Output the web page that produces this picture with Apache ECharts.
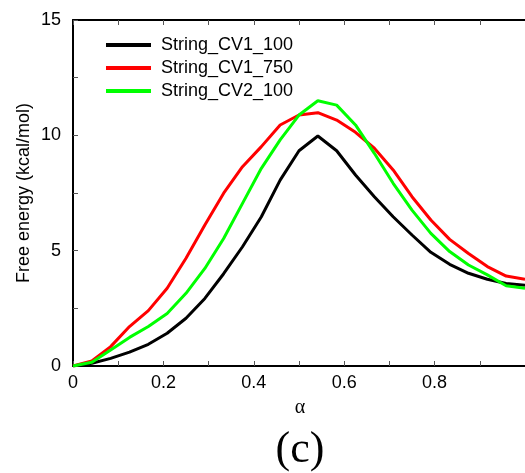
<!DOCTYPE html>
<html>
<head>
<meta charset="utf-8">
<script src="https://cdn.jsdelivr.net/npm/echarts@6/dist/echarts.min.js"></script>
<style>html,body{margin:0;padding:0;background:#fff}#c{width:525px;height:473px}</style>
</head>
<body>
<div id="c"></div>
<script>
var alpha = [0, 0.0417, 0.0833, 0.125, 0.1667, 0.2083, 0.25, 0.2917, 0.3333, 0.375, 0.4167, 0.4583, 0.5, 0.5417, 0.5833, 0.625, 0.6667, 0.7083, 0.75, 0.7917, 0.8333, 0.875, 0.9167, 0.9583, 1.0];
var seriesNames = ['String_CV1_100', 'String_CV1_750', 'String_CV2_100'];
var cv1_100 = [0, 0.12, 0.33, 0.6, 0.94, 1.42, 2.07, 2.93, 4.0, 5.17, 6.47, 8.06, 9.33, 9.97, 9.33, 8.28, 7.34, 6.47, 5.68, 4.93, 4.41, 4.02, 3.76, 3.58, 3.5];
var cv1_750 = [0, 0.22, 0.84, 1.71, 2.4, 3.37, 4.67, 6.11, 7.49, 8.64, 9.51, 10.45, 10.88, 10.98, 10.66, 10.13, 9.44, 8.5, 7.34, 6.33, 5.49, 4.88, 4.31, 3.9, 3.76];
var cv2_100 = [0, 0.16, 0.69, 1.24, 1.71, 2.28, 3.15, 4.23, 5.53, 7.05, 8.57, 9.8, 10.88, 11.5, 11.31, 10.45, 9.22, 7.92, 6.76, 5.75, 4.96, 4.38, 3.95, 3.48, 3.37];
var xTicks = [0, 0.2, 0.4, 0.6, 0.8, 1];
var yTicks = [0, 5, 10, 15];
var xName = 'α';
var yName = 'Free energy (kcal/mol)';
var panelLabel = '(c)';

var FONT = 'Liberation Sans, Arial, Helvetica, sans-serif';
function pairs(ys){ return ys.map(function(v,i){ return [alpha[i], v]; }); }
var colors = ['#000000', '#ff0000', '#00ff00'];
var datasets = [cv1_100, cv1_750, cv2_100];

var chart = echarts.init(document.getElementById('c'));
var tickStyle = {show:true, inside:true, length:5, lineStyle:{color:'#555', width:1}};
var minorStyle = {show:true, splitNumber:2, length:5, lineStyle:{color:'#555', width:1}};
chart.setOption({
  animation:false,
  backgroundColor:'#fff',
  grid:{left:73, top:20, right:-2, bottom:107, containLabel:false},
  legend:{
    orient:'vertical', left:101, top:31, itemWidth:45, itemHeight:4, itemGap:5,
    icon:'rect',
    data:seriesNames,
    textStyle:{fontFamily:FONT, fontSize:18, color:'#000', lineHeight:18, padding:[0,0,0,5]}
  },
  xAxis:[{
    type:'value', min:0, max:1, interval:0.2, position:'bottom',
    axisLine:{show:true, lineStyle:{color:'#000', width:2}},
    axisTick:tickStyle, minorTick:minorStyle,
    splitLine:{show:false},
    axisLabel:{fontFamily:FONT, fontSize:18, color:'#000', margin:8, showMaxLabel:false,
      formatter:function(v){ var t = xTicks.filter(function(x){return Math.abs(x-v)<1e-6;}); return t.length? String(t[0]) : ''; }}
  },{
    type:'value', min:0, max:1, interval:0.2, position:'top',
    axisLine:{show:true, lineStyle:{color:'#000', width:2}},
    axisTick:tickStyle, minorTick:minorStyle,
    splitLine:{show:false}, axisLabel:{show:false}
  }],
  yAxis:{
    type:'value', min:0, max:15, interval:5,
    axisLine:{show:true, lineStyle:{color:'#000', width:2}},
    axisTick:tickStyle, minorTick:minorStyle,
    splitLine:{show:false},
    axisLabel:{fontFamily:FONT, fontSize:18, color:'#000', margin:12,
      formatter:function(v){ var t = yTicks.filter(function(y){return Math.abs(y-v)<1e-6;}); return t.length? String(t[0]) : ''; }}
  },
  series: datasets.map(function(d,i){
    return {name:seriesNames[i], type:'line', data:pairs(d), showSymbol:false, symbol:'none',
      lineStyle:{color:colors[i], width:3}, itemStyle:{color:colors[i]}, xAxisIndex:0, yAxisIndex:0};
  }),
  graphic:[
    {type:'text', x:24, y:193, rotation:Math.PI/2,
      style:{text:yName, fontFamily:FONT, fontSize:18, fill:'#000', textAlign:'center', textVerticalAlign:'middle'}},
    {type:'text', x:300, y:408,
      style:{text:xName, fontFamily:'Liberation Serif, Times New Roman, serif', fontSize:20, fill:'#000', textAlign:'center', textVerticalAlign:'middle'}},
    {type:'text', x:300, y:450,
      style:{text:panelLabel, fontFamily:'Liberation Serif, Times New Roman, serif', fontSize:44, fill:'#000', textAlign:'center', textVerticalAlign:'middle'}}
  ]
});
</script>
</body>
</html>
